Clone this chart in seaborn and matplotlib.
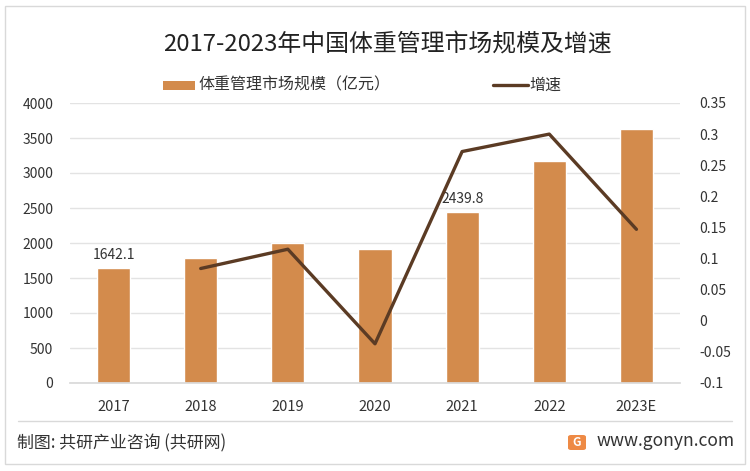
import matplotlib
matplotlib.use("Agg")
import matplotlib.pyplot as plt
import seaborn as sns
import pandas as pd
from matplotlib.patches import Rectangle, FancyBboxPatch
from matplotlib.lines import Line2D

years = ["2017", "2018", "2019", "2020", "2021", "2022", "2023E"]
market_size = [1642.1, 1780, 1995, 1915, 2439.8, 3165, 3630]
growth_years = ["2018", "2019", "2020", "2021", "2022", "2023E"]
growth = [0.084, 0.115, -0.037, 0.272, 0.300, 0.147]
labeled = {"2017": "1642.1", "2021": "2439.8"}
left_ticks = [0, 500, 1000, 1500, 2000, 2500, 3000, 3500, 4000]
right_ticks = [-0.1, -0.05, 0, 0.05, 0.1, 0.15, 0.2, 0.25, 0.3, 0.35]

sns.set_theme(style="white")
plt.rcParams['font.family'] = ['Noto Sans CJK SC', 'DejaVu Sans']

BAR = "#D38B4C"
LINE = "#5B3B24"
TXT = "#333333"

W, H = 750, 471
fig = plt.figure(figsize=(7.5, 4.71), dpi=100)
fig.patch.set_facecolor("white")

# outer border
fig.add_artist(Rectangle((5 / W, 7 / H), 740 / W, 458 / H, transform=fig.transFigure,
                         fill=False, edgecolor="#D9D9D9", linewidth=1.0))

ax = fig.add_axes([70 / W, (H - 383) / H, 610 / W, 280 / H])
df = pd.DataFrame({"year": years, "size": market_size})
sns.barplot(data=df, x="year", y="size", color=BAR, width=0.38, ax=ax,
            saturation=1, zorder=2)
ax.set_xlim(-0.5, len(years) - 0.5)
ax.set_ylim(0, 4000)
ax.set_yticks(left_ticks)
ax.set_yticklabels([str(t) for t in left_ticks])
ax.yaxis.grid(True, color="#E3E3E3", linewidth=1.0, zorder=0)
ax.set_axisbelow(True)
for s in ax.spines.values():
    s.set_visible(False)
ax.spines["bottom"].set_visible(True)
ax.spines["bottom"].set_color("#D9D9D9")
ax.tick_params(axis="both", length=0, labelsize=10, colors=TXT)
ax.tick_params(axis="y", pad=12)
ax.tick_params(axis="x", pad=12)
ax.set_xlabel("")
ax.set_ylabel("")
for lab in ax.get_xticklabels():
    lab.set_fontsize(10.5)

for i, y in enumerate(years):
    if y in labeled:
        ax.text(i, market_size[i] + 90, labeled[y], ha="center", va="bottom",
                fontsize=10, color=TXT, zorder=5)

ax2 = ax.twinx()
pos = [years.index(g) for g in growth_years]
gdf = pd.DataFrame({"pos": pos, "growth": growth})
sns.lineplot(data=gdf, x="pos", y="growth", color=LINE, linewidth=2.4, ax=ax2,
             zorder=4)
ax2.set_ylim(-0.1, 0.35)
ax2.set_yticks(right_ticks)
ax2.set_yticklabels([f"{t:g}" for t in right_ticks])
ax2.set_xlim(-0.5, len(years) - 0.5)
ax2.set_ylabel("")
ax2.set_xlabel("")
for s in ax2.spines.values():
    s.set_visible(False)
ax2.tick_params(axis="y", length=0, labelsize=10, colors=TXT, pad=14)
ax2.grid(False)

# title
fig.text(163 / W, (H - 45) / H, "2017-2023年中国体重管理市场规模及增速", ha="left",
         va="center", fontsize=17.2, color="#222222")

# legend
fig.add_artist(Rectangle((163 / W, (H - 90) / H), 32 / W, 9 / H, transform=fig.transFigure,
                         facecolor=BAR, edgecolor="none"))
fig.text(198 / W, (H - 85) / H, "体重管理市场规模（亿元）", ha="left", va="center",
         fontsize=11.5, color=TXT)
fig.add_artist(Line2D([493 / W, 528 / W], [(H - 85) / H, (H - 85) / H],
                      transform=fig.transFigure, color=LINE, linewidth=2.4))
fig.text(529 / W, (H - 85) / H, "增速", ha="left", va="center", fontsize=11.5, color=TXT)

# separator line
fig.add_artist(Line2D([18 / W, 732 / W], [(H - 421) / H, (H - 421) / H],
                      transform=fig.transFigure, color="#D9D9D9", linewidth=1.0))

# footer
fig.text(17 / W, (H - 443) / H, "制图: 共研产业咨询 (共研网)", ha="left", va="center",
         fontsize=12.2, color="#333333", fontweight="medium")
fig.add_artist(FancyBboxPatch((568 / W, (H - 450) / H), 18 / W, 15 / H,
                              boxstyle="round,pad=0.0,rounding_size=0.004",
                              transform=fig.transFigure, facecolor="#EE8A45",
                              edgecolor="none"))
fig.text(577 / W, (H - 442.5) / H, "G", ha="center", va="center", fontsize=8.5,
         color="white", fontweight="bold")
fig.text(597 / W, (H - 441) / H, "www.gonyn.com", ha="left", va="center",
         fontsize=12.6, color="#333333")

fig.savefig("out.png", dpi=100, facecolor="white")
